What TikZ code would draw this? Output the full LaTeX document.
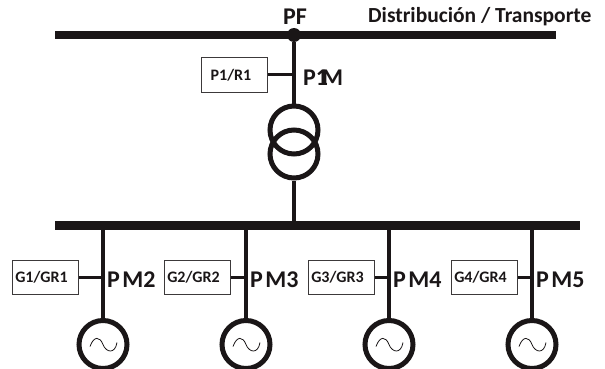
\documentclass[tikz,border=0pt]{standalone}
\usepackage{fontspec}
\setmainfont{Carlito}
\usetikzlibrary{positioning, calc}
\definecolor{linecolor}{RGB}{26, 22, 23}
\tikzset{
    busbar/.style={
        rectangle,
        inner sep=0pt,
        minimum height=8.5pt,
        fill=linecolor
    },
    wire/.style={
        line width=4.6pt,
        color=linecolor
    },
    stub/.style={
        line width=3pt,
        color=linecolor
    },
    winding/.style={
        circle,
        inner sep=0pt,
        minimum size=48pt,
        line width=5pt,
        draw=linecolor
    },
    ctrlbox/.style={
        rectangle,
        inner sep=0pt,
        minimum width=66pt,
        minimum height=34pt,
        line width=1pt,
        draw=linecolor!85,
        text=linecolor,
        font=\fontsize{16}{18}\selectfont\bfseries
    },
    meter/.style={
        font=\fontsize{24}{27}\selectfont\bfseries,
        text=linecolor,
        inner sep=0pt,
        anchor=base west
    },
    title/.style={
        meter,
        font=\fontsize{21.5}{24}\selectfont\bfseries
    }
}
\begin{document}
\begin{tikzpicture}[x=1pt, y=-1pt]
    \useasboundingbox (0,0) rectangle (605,369);

    % Define bars and the transformer
    \node (topbus) [busbar, minimum width=501pt] at (305.5,35) {};
    \node (lowbus) [busbar, minimum width=525pt] at (317.5,225.5) {};
    \node (pfdot) [circle, inner sep=0pt, minimum size=14pt, fill=linecolor] at (294,35) {};
    \node (trafotop) [winding] at (294,130) {};
    \node (trafolow) [winding] at (294,154) {};
    \node (relay) [ctrlbox] at (234,75) {P1/R1\kern6pt};

    % Draw main wires
    \draw [wire] (pfdot) -- (trafotop.north);
    \draw [wire] (trafolow.south) -- (trafolow.south |- lowbus.north);
    \draw [stub] (relay.east) -- (relay.east -| trafotop);

    % Add labels at the top
    \node (pflabel) [meter] at (283,25) {PF};
    \node (netlabel) [title] at (368,23) {Distribución / Transporte};
    \node (pmone) [meter] at (303,85) {P1\kern-6pt M};

    % Feeders with generators
    \foreach \i/\px/\bx/\m in {1/103/45/2, 2/246/197/3, 3/389/341/4, 4/532/484/5} {
        \node (gen\i) [winding] at (\px,344.5) {};
        \node (box\i) [ctrlbox] at (\bx,277.5) {G\i/GR\i\kern7pt};
        \node (pm\i) [meter] at ($(gen\i |- box\i) + (4,10)$) {P\kern2.5pt M\m};
        \draw [wire] (gen\i.north |- lowbus.south) -- (gen\i.north);
        \draw [stub] (box\i.east) -- (box\i.east -| gen\i);
        \draw [line width=0.8pt, color=linecolor] ($(gen\i) + (-13,2)$)
            .. controls ($(gen\i) + (-9,-9)$) and ($(gen\i) + (-3,-8)$) .. ($(gen\i)$)
            .. controls ($(gen\i) + (3,8)$) and ($(gen\i) + (12,10)$) .. ($(gen\i) + (14,-2)$);
    }
\end{tikzpicture}
\end{document}
